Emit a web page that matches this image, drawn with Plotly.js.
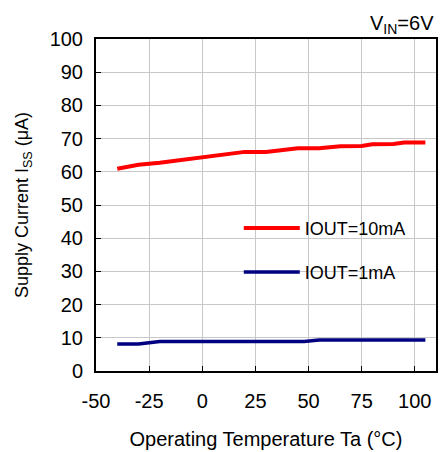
<!DOCTYPE html>
<html>
<head>
<meta charset="utf-8">
<script src="https://cdn.plot.ly/plotly-3.0.1.min.js"></script>
<style>html,body{margin:0;padding:0;background:#fff}#chart{width:440px;height:452px}</style>
</head>
<body>
<div id="chart"></div>
<script>
// Data
const tempRed = [-40, -30, -20, -10, 0, 10, 15, 20, 30, 45, 55, 65, 75, 80, 90, 95, 105];
const iss10mA = [60.9, 62.1, 62.7, 63.5, 64.4, 65.3, 65.6, 66.0, 66.0, 67.1, 67.1, 67.7, 67.8, 68.3, 68.4, 68.8, 68.8];
const tempBlue = [-40, -30, -20, -10, 0, 10, 20, 30, 40, 48, 55, 65, 75, 85, 95, 105];
const iss1mA = [8.1, 8.1, 8.9, 8.9, 8.9, 8.9, 8.9, 8.9, 8.9, 8.9, 9.3, 9.3, 9.3, 9.3, 9.3, 9.3];
const seriesNames = ["IOUT=10mA", "IOUT=1mA"];
const xTicks = [-50, -25, 0, 25, 50, 75, 100];
const yTicks = [0, 10, 20, 30, 40, 50, 60, 70, 80, 90, 100];

const FONT = '"Liberation Sans", Arial, sans-serif';

const traces = [
  {x: tempRed, y: iss10mA, name: seriesNames[0], mode: 'lines', type: 'scatter',
   line: {color: '#ff0000', width: 4}, legend: 'legend'},
  {x: tempBlue, y: iss1mA, name: seriesNames[1], mode: 'lines', type: 'scatter',
   line: {color: '#000080', width: 3.5}, legend: 'legend2'}
];

const axisCommon = {
  showline: true, mirror: true, linecolor: '#000', linewidth: 2,
  ticks: 'inside', ticklen: 5, tickwidth: 1, tickcolor: '#000',
  showgrid: true, gridcolor: '#c8c8c8', gridwidth: 1, zeroline: false,
  tickfont: {family: FONT, size: 20, color: '#000'}
};

const legendCommon = {
  bgcolor: 'rgba(0,0,0,0)', borderwidth: 0, xanchor: 'left', yanchor: 'middle',
  font: {family: FONT, size: 18, color: '#000'}, itemwidth: 56, itemclick: false
};

const layout = {
  width: 440, height: 452,
  margin: {l: 96, r: 4, t: 39, b: 81},
  paper_bgcolor: '#fff', plot_bgcolor: '#fff',
  font: {family: FONT, size: 18, color: '#000'},
  showlegend: true,
  xaxis: Object.assign({}, axisCommon, {
    range: [-50, 110], tickvals: xTicks, ticktext: xTicks.map(String),
    ticklabelstandoff: 11,
    title: {text: 'Operating Temperature Ta (°C)', font: {family: FONT, size: 20, color: '#000'}, standoff: 21}
  }),
  yaxis: Object.assign({}, axisCommon, {
    range: [0, 100], tickvals: yTicks, ticktext: yTicks.map(String),
    ticklabelstandoff: 7,
    title: {text: 'Supply Current I<sub>SS</sub> (μA)', font: {family: FONT, size: 18, color: '#000'}, standoff: 16}
  }),
  legend: Object.assign({}, legendCommon, {x: 0.42, y: 0.43}),
  legend2: Object.assign({}, legendCommon, {x: 0.42, y: 0.297}),
  shapes: [{
    type: 'rect', xref: 'paper', yref: 'paper', x0: 0.414, x1: 0.946, y0: 0.232, y1: 0.5,
    fillcolor: '#ffffff', line: {width: 0}, layer: 'between'
  }],
  annotations: [{
    text: 'V<sub>IN</sub>=6V', xref: 'paper', yref: 'paper', x: 1, y: 1,
    xanchor: 'right', yanchor: 'bottom', yshift: 0, showarrow: false,
    font: {family: FONT, size: 20, color: '#000'}
  }]
};

Plotly.newPlot('chart', traces, layout, {displayModeBar: false, staticPlot: true});
</script>
</body>
</html>
